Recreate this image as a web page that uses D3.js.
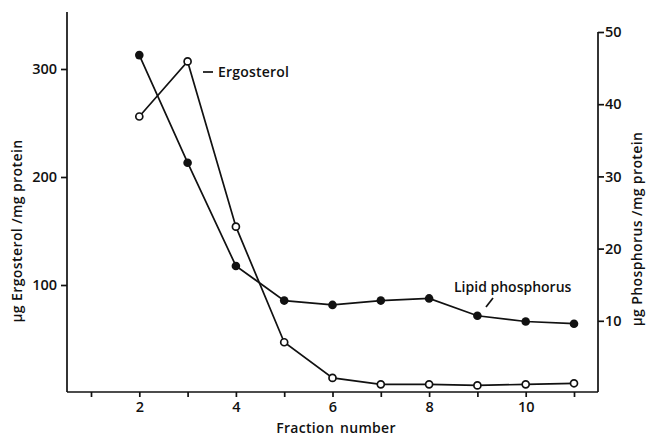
<!DOCTYPE html>
<html>
<head>
<meta charset="utf-8">
<script src="https://cdn.jsdelivr.net/npm/d3@7"></script>
<style>
    body { margin: 0; background: #fff; }
    svg text { font-family: "Open Sans", "DejaVu Sans", sans-serif; font-weight: 600; fill: #111; }
    .axis path, .axis line { stroke: #111; stroke-width: 1.7; }
</style>
</head>
<body>
<svg id="chart" width="648" height="436"></svg>
<script>
'use strict';

const fractions = [2, 3, 4, 5, 6, 7, 8, 9, 10, 11];
const ergosterol = [256, 307, 154, 47, 14, 8, 8, 7, 8, 9];
const phosphorus = [46.8, 31.9, 17.6, 12.8, 12.2, 12.8, 13.1, 10.7, 9.9, 9.6];
const xTicks = [1, 2, 3, 4, 5, 6, 7, 8, 9, 10, 11];
const leftTicks = [100, 200, 300];
const rightTicks = [10, 20, 30, 40, 50];

const svg = d3.select('#chart');

const x = d3.scaleLinear().domain([1, 11]).range([91, 574]);
const yLeft = d3.scaleLinear().domain([0, 100]).range([393, 285]);
const yRight = d3.scaleLinear().domain([0, 50]).range([393, 32]);

const left = 67, right = 598, bottom = 392;

// bottom axis
svg.append('g')
    .attr('class', 'axis')
    .attr('transform', `translate(0,${bottom})`)
    .call(d3.axisBottom(x).tickValues(xTicks).tickSize(5).tickSizeOuter(0)
        .tickFormat(d => d % 2 === 0 ? d : ''))
    .call(g => g.select('.domain').attr('d', `M${left},0H${right}`))
    .call(g => g.selectAll('text').attr('y', 8).attr('dy', '0.85em'));

// left axis
svg.append('g')
    .attr('class', 'axis')
    .attr('transform', `translate(${left},0)`)
    .call(d3.axisLeft(yLeft).tickValues(leftTicks).tickSize(6).tickSizeOuter(0))
    .call(g => g.select('.domain').attr('d', `M0,12V${bottom}`))
    .call(g => g.selectAll('text').attr('x', -10));

// right axis
svg.append('g')
    .attr('class', 'axis')
    .attr('transform', `translate(${right},0)`)
    .call(d3.axisRight(yRight).tickValues(rightTicks).tickSize(6).tickSizeOuter(0))
    .call(g => g.select('.domain').attr('d', `M0,${yRight(50)}V${bottom}`))
    .call(g => g.selectAll('text').attr('x', 7));

svg.selectAll('.axis text')
    .style('font-size', '14.5px')
    .style('font-family', '"Open Sans", sans-serif')
    .style('font-weight', 600)
    .attr('fill', '#111');

// axis titles
svg.append('text')
    .attr('transform', 'translate(22,231) rotate(-90)')
    .attr('text-anchor', 'middle')
    .style('font-size', '14px')
    .style('letter-spacing', '0.4px')
    .text('µg Ergosterol /mg protein');

svg.append('text')
    .attr('transform', 'translate(642,229) rotate(-90)')
    .attr('text-anchor', 'middle')
    .style('font-size', '14px')
    .style('letter-spacing', '0.4px')
    .text('µg Phosphorus /mg protein');

svg.append('text')
    .attr('x', 336)
    .attr('y', 433)
    .attr('text-anchor', 'middle')
    .style('font-size', '14px')
    .style('letter-spacing', '0.3px')
    .style('word-spacing', '2px')
    .text('Fraction number');

// series
const ergoData = fractions.map((f, i) => ({ f, v: ergosterol[i] }));
const phosData = fractions.map((f, i) => ({ f, v: phosphorus[i] }));

const line = y => d3.line().x(d => x(d.f)).y(d => y(d.v));

svg.append('path')
    .datum(phosData)
    .attr('fill', 'none')
    .attr('stroke', '#111')
    .attr('stroke-width', 1.7)
    .attr('d', line(yRight));

svg.append('path')
    .datum(ergoData)
    .attr('fill', 'none')
    .attr('stroke', '#111')
    .attr('stroke-width', 1.7)
    .attr('d', line(yLeft));

svg.selectAll('.phos')
    .data(phosData)
    .join('circle')
    .attr('class', 'phos')
    .attr('cx', d => x(d.f))
    .attr('cy', d => yRight(d.v))
    .attr('r', 4.3)
    .attr('fill', '#111');

svg.selectAll('.ergo')
    .data(ergoData)
    .join('circle')
    .attr('class', 'ergo')
    .attr('cx', d => x(d.f))
    .attr('cy', d => yLeft(d.v))
    .attr('r', 3.5)
    .attr('fill', '#fff')
    .attr('stroke', '#111')
    .attr('stroke-width', 1.7);

// annotations
svg.append('line')
    .attr('x1', 203).attr('x2', 213)
    .attr('y1', 72).attr('y2', 72)
    .attr('stroke', '#111').attr('stroke-width', 1.7);
svg.append('text')
    .attr('x', 218).attr('y', 77)
    .style('font-size', '14px')
    .style('letter-spacing', '0.2px')
    .text('Ergosterol');

svg.append('line')
    .attr('x1', 486).attr('x2', 493)
    .attr('y1', 307).attr('y2', 298)
    .attr('stroke', '#111').attr('stroke-width', 1.7);
svg.append('text')
    .attr('x', 454).attr('y', 292)
    .style('font-size', '14px')
    .text('Lipid phosphorus');
</script>
</body>
</html>
